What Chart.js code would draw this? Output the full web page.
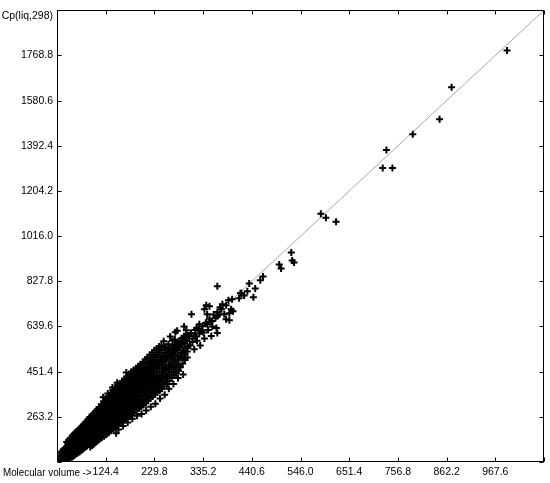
<!DOCTYPE html>
<html>
<head>
<meta charset="utf-8">
<script src="https://cdn.jsdelivr.net/npm/chart.js@4.4.1/dist/chart.umd.min.js"></script>
<style>
  body { margin: 0; background: #fff; }
  canvas { display: block; }
</style>
</head>
<body>
<canvas id="myChart" width="550" height="483"></canvas>
<script>
// axis ticks
const xTicks = [19.0, 124.4, 229.8, 335.2, 440.6, 546.0, 651.4, 756.8, 862.2, 967.6, 1073.0];
const yTicks = [75.0, 263.2, 451.4, 639.6, 827.8, 1016.0, 1204.2, 1392.4, 1580.6, 1768.8, 1957.0];
const xTitle = 'Molecular volume ->';
const yTitle = 'Cp(liq,298)';

// dense cluster, [molecular volume, Cp]
const densePoints = [
  [22,84],[23,79],[26,90],[27,80],[25,99],[30,97],[31,85],[29,110],[32,79],
  [34,105],[35,89],[33,120],[36,81],[38,112],[39,95],[37,130],[40,84],
  [42,118],[43,100],[41,136],[44,88],[42,152],[46,127],[47,106],[45,143],[48,91],[46,161],
  [50,132],[51,113],[49,150],[52,96],[50,170],[51,123],[54,141],[55,118],[53,158],[56,101],[54,178],[55,129],
  [58,146],[59,124],[57,166],[60,108],[58,184],[59,135],[57,155],
  [62,154],[63,131],[61,173],[64,112],[62,192],[63,142],[61,161],
  [66,161],[67,138],[65,181],[68,117],[66,199],[67,148],[65,169],
  [70,168],[71,145],[69,189],[72,124],[70,206],[71,155],[69,177],[70,217],
  [74,176],[75,150],[73,196],[76,130],[74,213],[75,162],[73,185],[74,224],
  [78,182],[79,157],[77,203],[80,136],[78,221],[79,170],[77,191],[80,146],
  [82,190],[83,165],[81,211],[84,142],[82,229],[83,177],[81,199],[84,151],[82,242],
  [86,197],[87,172],[85,219],[88,149],[86,237],[87,184],[85,206],[88,158],[86,252],
  [90,204],[91,178],[89,226],[92,155],[90,246],[91,191],[89,213],[92,165],[90,262],[91,138],
  [94,211],[95,185],[93,233],[96,160],[94,254],[95,198],[93,221],[96,170],[94,268],[95,144],
  [98,218],[99,192],[97,241],[100,167],[98,262],[99,205],[97,229],[100,178],[98,276],[99,150],
  [102,226],[103,198],[101,249],[104,174],[102,270],[103,212],[101,236],[104,185],[102,284],[103,157],
  [106,233],[107,205],[105,256],[108,181],[106,278],[107,218],[105,243],[108,192],[106,294],[107,164],
  [110,240],[111,211],[109,263],[112,187],[110,286],[111,225],[109,251],[112,198],[110,304],[111,170],
  [115,249],[116,220],[114,273],[117,194],[115,296],[116,234],[114,259],[117,205],[115,315],[116,176],
  [120,257],[121,228],[119,281],[122,201],[120,306],[121,242],[119,268],[122,212],[120,328],[121,182],[119,345],
  [125,266],[126,235],[124,291],[127,209],[125,317],[126,250],[124,277],[127,219],[125,338],[126,190],
  [130,275],[131,244],[129,301],[132,216],[130,327],[131,259],[129,286],[132,228],[130,350],[131,197],[129,360],
  [135,285],[136,252],[134,311],[137,224],[135,337],[136,268],[134,296],[137,236],[135,362],[136,205],
  [140,293],[141,259],[139,321],[142,231],[140,347],[141,276],[139,306],[142,244],[140,375],[141,212],[139,385],
  [145,302],[146,268],[144,331],[147,239],[145,357],[146,285],[144,316],[147,252],[145,384],[146,220],[147,195],
  [150,311],[151,276],[149,339],[152,247],[150,366],[151,292],[149,323],[152,260],[150,394],[151,229],[149,405],[152,210],
  [155,321],[156,285],[154,349],[157,255],[155,376],[156,300],[154,333],[157,268],[155,402],[156,237],
  [160,329],[161,292],[159,357],[162,262],[160,386],[161,310],[159,341],[162,275],[160,413],[161,244],[162,225],
  [165,339],[166,300],[164,366],[167,270],[165,396],[166,318],[164,351],[167,282],[165,421],[166,250],
  [170,347],[171,309],[169,376],[172,278],[170,403],[171,328],[169,361],[172,290],[170,431],[171,258],[172,240],[169,448],
  [175,357],[176,318],[174,386],[177,285],[175,413],[176,336],[174,369],[177,298],[175,441],[176,265],
  [180,365],[181,326],[179,393],[182,292],[180,421],[181,345],[179,379],[182,305],[180,451],[181,272],[182,255],
  [185,373],[186,335],[184,401],[187,300],[185,431],[186,352],[184,387],[187,312],[185,458],[186,280],
  [190,383],[191,342],[189,411],[192,308],[190,441],[191,362],[189,396],[192,320],[190,466],[191,290],[192,268],
  [195,391],[196,350],[194,421],[197,316],[195,449],[196,370],[194,406],[197,330],[195,474],[196,298],
  [200,401],[201,360],[199,429],[202,325],[200,459],[201,378],[199,413],[202,340],[200,482],[201,305],[202,275],
  [205,409],[206,368],[204,439],[207,335],[205,466],[206,388],[204,421],[207,350],[205,492],[206,312],
  [210,419],[211,376],[209,447],[212,345],[210,476],[211,398],[209,431],[212,360],[210,502],[211,320],[212,290],
  [215,429],[216,385],[214,456],[217,352],[215,486],[216,405],[214,441],[217,368],[215,510],[216,330],
  [220,437],[221,395],[219,466],[222,362],[220,493],[221,415],[219,451],[222,378],[220,522],[221,340],[222,305],
  [225,446],[226,402],[224,475],[227,370],[225,503],[226,425],[224,459],[227,388],[225,530],[226,348],
  [230,455],[231,410],[229,483],[232,380],[230,513],[231,432],[229,469],[232,395],[230,541],[231,356],[232,318],
  [235,463],[236,420],[234,493],[237,390],[235,521],[236,440],[234,477],[237,405],[235,548],[236,365],
  [240,473],[241,428],[239,501],[242,398],[240,531],[241,450],[239,487],[242,412],[240,556],[241,372],[242,340],
  [245,481],[246,438],[244,511],[247,408],[245,541],[246,460],[244,496],[247,422],[245,560],[246,380],
  [250,491],[251,446],[249,519],[252,420],[250,549],[251,468],[249,506],[252,432],[250,578],[251,390],[252,355],
  [255,499],[256,455],[254,529],[257,430],[255,470],[256,513],[254,555],[257,400],
  [260,509],[261,462],[259,539],[262,440],[260,566],[261,480],[259,521],[262,412],[261,380],
  [265,517],[266,472],[264,546],[267,450],[265,490],[266,531],[264,598],[267,425],
  [270,526],[271,480],[269,556],[272,460],[270,500],[271,541],[269,580],[272,435],[271,400],
  [275,535],[276,490],[274,563],[277,470],[275,510],[276,549],[274,585],[277,445],
  [280,543],[281,500],[279,571],[282,480],[280,520],[281,557],[279,622],[282,455],[281,425],
  [285,553],[286,508],[284,579],[287,530],[285,566],[286,470],
  [290,561],[291,515],[289,591],[292,539],[290,576],[291,485],[292,440],
  [295,571],[296,525],[294,599],[297,549],[295,586],[294,640],[296,500],
  [300,579],[301,535],[299,606],[302,556],[300,590],[301,510]
];

// in-between points of the black core
const corePoints = [
  [28,88],[28,100],[28,118],[32,92],[32,104],[32,124],[32,84],[36,98],[36,113],[36,132],[36,88],
  [40,103],[40,120],[40,140],[40,92],[40,158],[44,110],[44,127],[44,148],[44,98],[44,166],
  [48,116],[48,135],[48,156],[48,103],[48,175],[52,123],[52,143],[52,164],[52,108],[52,184],
  [56,130],[56,150],[56,172],[56,115],[56,192],[60,136],[60,158],[60,180],[60,120],[60,200],[60,168],
  [64,143],[64,165],[64,188],[64,126],[64,207],[64,176],[68,150],[68,172],[68,195],[68,132],[68,214],[68,183],
  [72,157],[72,180],[72,203],[72,138],[72,222],[72,190],[76,163],[76,187],[76,210],[76,143],[76,230],[76,198],
  [80,170],[80,195],[80,217],[80,150],[80,237],[80,205],[84,177],[84,202],[84,225],[84,156],[84,246],[84,213],
  [88,184],[88,209],[88,232],[88,162],[88,254],[88,220],[92,190],[92,216],[92,240],[92,168],[92,262],[92,228],
  [96,197],[96,224],[96,247],[96,175],[96,270],[96,235],[100,204],[100,231],[100,255],[100,181],[100,278],[100,243],
  [104,211],[104,238],[104,262],[104,188],[104,286],[104,250],[108,218],[108,246],[108,270],[108,194],[108,294],[108,258],
  [112.5,226],[112.5,254],[112.5,279],[112.5,201],[112.5,303],[112.5,266],
  [117.5,234],[117.5,263],[117.5,289],[117.5,209],[117.5,314],[117.5,276],
  [122.5,243],[122.5,272],[122.5,299],[122.5,216],[122.5,325],[122.5,286],
  [127.5,252],[127.5,281],[127.5,309],[127.5,224],[127.5,336],[127.5,296],
  [132.5,261],[132.5,291],[132.5,318],[132.5,232],[132.5,346],[132.5,305],
  [137.5,269],[137.5,300],[137.5,328],[137.5,240],[137.5,356],[137.5,314],
  [142.5,278],[142.5,309],[142.5,338],[142.5,248],[142.5,366],[142.5,323],
  [147.5,287],[147.5,318],[147.5,347],[147.5,256],[147.5,376],[147.5,332],
  [152.5,295],[152.5,327],[152.5,356],[152.5,264],[152.5,385],[152.5,341],
  [157.5,304],[157.5,336],[157.5,366],[157.5,272],[157.5,394],[157.5,350],
  [162.5,313],[162.5,345],[162.5,375],[162.5,280],[162.5,404],[162.5,359],
  [167.5,322],[167.5,354],[167.5,384],[167.5,288],[167.5,413],[167.5,368],
  [172.5,331],[172.5,363],[172.5,394],[172.5,296],[172.5,422],[172.5,377],
  [177.5,340],[177.5,372],[177.5,403],[177.5,304],[177.5,431],[177.5,386],
  [182.5,349],[182.5,381],[182.5,412],[182.5,312],[182.5,440],[182.5,395],
  [187.5,358],[187.5,390],[187.5,421],[187.5,320],[187.5,448],[187.5,404],
  [192.5,367],[192.5,399],[192.5,430],[192.5,328],[192.5,456],[192.5,413],
  [197.5,376],[197.5,408],[197.5,440],[197.5,336],[197.5,465],[197.5,422],
  [202.5,385],[202.5,417],[202.5,449],[202.5,432],[207.5,394],[207.5,426],[207.5,458],[207.5,441],
  [212.5,403],[212.5,435],[212.5,467],[212.5,450],[217.5,412],[217.5,444],[217.5,476],[217.5,459],
  [222.5,421],[222.5,453],[222.5,485],[227.5,430],[227.5,462],[227.5,494]
];

// looser points further up the band
const sparsePoints = [
  [305,590],[307,560],[309,612],[312,575],[314,600],[316,545],[318,625],[320,598],[322,580],
  [325,630],[327,610],[329,560],[331,620],[334,641],[336,615],[338,590],[341,655],[344,649],
  [346,625],[349,672],[352,660],[355,640],[358,690],[362,675],[366,700],[370,690],[372,720],
  [366,807],[418,778],[413,757],[398,753],[390,749],[377,732],[385,728],[342,728],[349,724],
  [338,711],[375,711],[400,703],[392,695],[381,691],[310,691],[344,691],[366,682],[385,670],
  [392,666],[355,662],[327,649],[364,633],[321,633],[299,624],[275,616],[366,612],[316,600],
  [301,600],[353,600],
  [465,848],[459,832],[448,798],[444,761],[435,819],[431,786],[424,769],[416,778],[396,711],
  [500,898],[504,881],[526,948],[528,915],[532,906],[590,1109],[601,1093],[623,1076],
  [724,1300],[745,1300],[732,1375],[789,1441],[847,1503],[873,1636],[993,1789]
];

// grey reference line, corner to corner
const fitLine = [[19.0, 75.0], [1073.0, 1957.0]];

const toXY = arr => arr.map(p => ({x: p[0], y: p[1]}));
const font = {family: '"Liberation Sans", Arial, sans-serif', size: 10.5};

const frame = {
  id: 'frame',
  afterDraw(chart) {
    const {ctx, chartArea: a, scales} = chart;
    const L = Math.round(a.left) + 0.5, R = Math.round(a.right) - 0.5;
    const T = Math.round(a.top) + 0.5, B = Math.round(a.bottom) - 0.5;
    ctx.save();
    ctx.strokeStyle = '#000';
    ctx.lineWidth = 1;
    ctx.strokeRect(L, T, R - L, B - T);
    ctx.beginPath();
    xTicks.forEach(v => {
      const px = Math.round(scales.x.getPixelForValue(v)) + 0.5;
      ctx.moveTo(px, B); ctx.lineTo(px, B - 4);
      ctx.moveTo(px, T); ctx.lineTo(px, T + 4);
    });
    yTicks.forEach(v => {
      const py = Math.round(scales.y.getPixelForValue(v)) + 0.5;
      ctx.moveTo(L, py); ctx.lineTo(L + 4, py);
      ctx.moveTo(R, py); ctx.lineTo(R - 4, py);
    });
    ctx.stroke();

    ctx.fillStyle = '#000';
    ctx.font = font.size + 'px ' + font.family;
    ctx.textAlign = 'right';
    ctx.textBaseline = 'middle';
    ctx.fillText(yTitle, a.left - 4, a.top + 6);
    const lab = xTicks[1].toFixed(1);
    const xr = scales.x.getPixelForValue(xTicks[1]) - ctx.measureText(lab).width / 2 - 1;
    ctx.fillText(xTitle, xr, a.bottom + 11, xr - 3);
    ctx.restore();
  }
};

const ctx = document.getElementById('myChart');

new Chart(ctx, {
  data: {
    datasets: [
      {
        type: 'scatter',
        data: toXY(densePoints.concat(corePoints, sparsePoints)),
        pointStyle: 'cross',
        pointRadius: 3.5,
        borderWidth: 2,
        borderColor: '#000',
        backgroundColor: '#000',
        order: 0
      },
      {
        type: 'line',
        data: toXY(fitLine),
        borderColor: '#a8a8a8',
        borderWidth: 1,
        pointRadius: 0,
        fill: false,
        order: 1
      }
    ]
  },
  options: {
    responsive: false,
    animation: false,
    devicePixelRatio: 1,
    layout: { padding: { top: 8, right: 5, left: 0, bottom: 0 } },
    plugins: {
      legend: { display: false },
      tooltip: { enabled: false }
    },
    scales: {
      x: {
        type: 'linear',
        min: xTicks[0],
        max: xTicks[xTicks.length - 1],
        afterBuildTicks: s => { s.ticks = xTicks.map(v => ({value: v})); },
        afterFit: s => { s.height = 21; },
        grid: { display: false, drawTicks: false },
        border: { display: false },
        ticks: {
          font: font, color: '#000', padding: 4, maxRotation: 0, autoSkip: false,
          callback: (v, i) => (i === 0 || i === xTicks.length - 1) ? '' : v.toFixed(1)
        }
      },
      y: {
        type: 'linear',
        min: yTicks[0],
        max: yTicks[yTicks.length - 1],
        afterBuildTicks: s => { s.ticks = yTicks.map(v => ({value: v})); },
        afterFit: s => { s.width = 57; },
        grid: { display: false, drawTicks: false },
        border: { display: false },
        ticks: {
          font: font, color: '#000', padding: 4, autoSkip: false,
          callback: (v, i) => (i === 0 || i === yTicks.length - 1) ? '' : v.toFixed(1)
        }
      }
    }
  },
  plugins: [frame]
});
</script>
</body>
</html>
